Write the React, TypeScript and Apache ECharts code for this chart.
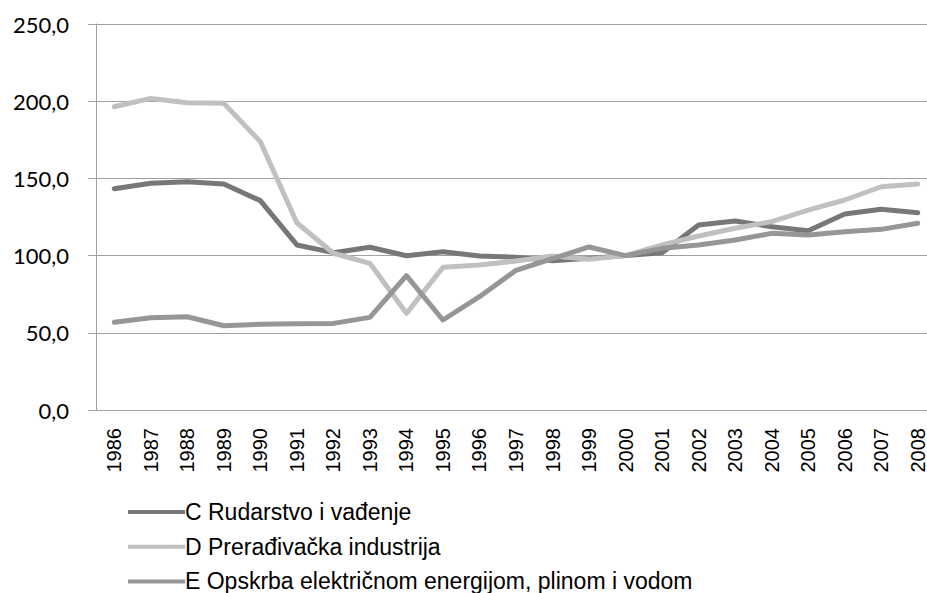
import React, { useEffect, useRef } from "react";
import * as echarts from "echarts";

const years = ["1986","1987","1988","1989","1990","1991","1992","1993","1994","1995","1996","1997","1998","1999","2000","2001","2002","2003","2004","2005","2006","2007","2008"];
const seriesNames = ["C Rudarstvo i vađenje", "D Prerađivačka industrija", "E Opskrba električnom energijom, plinom i vodom"];
const rudarstvo = [143.3, 146.8, 147.9, 146.4, 135.6, 106.9, 101.9, 105.4, 99.9, 102.5, 99.7, 98.9, 96.7, 98.2, 100, 101.9, 119.8, 122.4, 118.7, 116.1, 126.9, 130.0, 127.8];
const preradivacka = [196.4, 201.8, 199.0, 198.6, 173.8, 121.3, 101.5, 95.0, 62.6, 92.4, 93.9, 96.5, 99.7, 97.6, 100, 106.9, 112.7, 117.7, 122.0, 129.5, 136.0, 144.6, 146.4];
const opskrba = [56.8, 59.8, 60.4, 54.6, 55.5, 55.9, 56.1, 60.0, 87.0, 58.3, 73.4, 90.5, 98.0, 105.6, 100, 104.7, 106.9, 110.1, 114.4, 113.3, 115.5, 117.0, 120.9];
const seriesColors = ["#777777", "#c0c0c0", "#969696"];

export default function App() {
  const ref = useRef<HTMLDivElement>(null);
  useEffect(() => {
    document.body.style.margin = "0";
    if (!ref.current) return;
    const chart = echarts.init(ref.current, null, { renderer: "svg" });
    const data = [rudarstvo, preradivacka, opskrba];
    chart.setOption({
      animation: false,
      backgroundColor: "#ffffff",
      grid: { left: 96, right: 0, top: 24, bottom: 183, containLabel: false },
      legend: seriesNames.map((n, i) => ({
        orient: "vertical",
        left: 128,
        top: 500.5 + i * 34.7,
        padding: 0,
        itemWidth: 57,
        itemHeight: 22,
        data: [{ name: n, icon: "path://M0,9 L57,9 L57,13 L0,13 Z", itemStyle: { color: seriesColors[i] } }],
        textStyle: { fontFamily: "Liberation Sans", fontSize: 23, lineHeight: 22, color: "#000000", padding: [0, 0, 0, -5] },
      })),
      xAxis: {
        type: "category",
        data: years,
        boundaryGap: true,
        axisLine: { lineStyle: { color: "#a0a0a0", width: 1 } },
        axisTick: { interval: 0, length: 8, lineStyle: { color: "#a0a0a0" } },
        axisLabel: { interval: 0, rotate: 90, margin: 18, fontFamily: "Liberation Sans", fontSize: 20, color: "#000000" },
        splitLine: { show: false },
      },
      yAxis: {
        type: "value",
        min: 0,
        max: 250,
        interval: 50,
        axisLine: { show: true, lineStyle: { color: "#a0a0a0", width: 1 } },
        axisTick: { show: true, length: 8, lineStyle: { color: "#a0a0a0" } },
        axisLabel: {
          margin: 27,
          fontFamily: "Lato",
          fontSize: 22,
          color: "#000000",
          formatter: (v: number) => v.toFixed(1).replace(".", ","),
        },
        splitLine: { lineStyle: { color: "#a0a0a0", width: 1 } },
      },
      series: data.map((d, i) => ({
        name: seriesNames[i],
        type: "line",
        data: d,
        symbol: "none",
        color: seriesColors[i],
        lineStyle: { width: 5, color: seriesColors[i], cap: "round", join: "round" },
      })),
    });
    return () => chart.dispose();
  }, []);
  return (
    <div style={{ width: 927, height: 593, overflow: "hidden", position: "relative" }}>
      <div ref={ref} style={{ width: 936, height: 593 }} />
    </div>
  );
}
